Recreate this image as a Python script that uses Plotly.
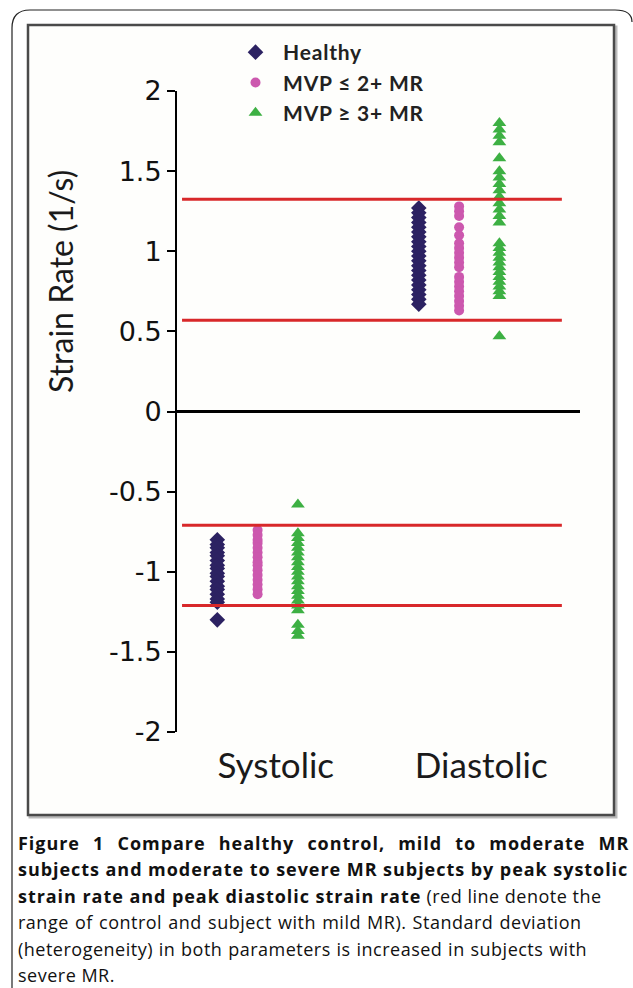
import plotly.graph_objects as go

# ---------------- data ----------------
categories = ["Systolic", "Diastolic"]
series_names = ["Healthy", "MVP \u2264 2+ MR", "MVP \u2265 3+ MR"]

healthy_sys = [-0.80, -0.83, -0.85, -0.88, -0.90, -0.93, -0.96, -0.98, -1.01, -1.03,
               -1.06, -1.09, -1.11, -1.14, -1.17, -1.19, -1.30]
mild_sys = [-0.74, -0.77, -0.80, -0.82, -0.85, -0.88, -0.91, -0.94, -0.96, -0.99,
            -1.02, -1.05, -1.08, -1.11, -1.14]
severe_sys = [-0.58, -0.76, -0.79, -0.82, -0.85, -0.88, -0.91, -0.94, -0.97, -1.00,
              -1.03, -1.06, -1.09, -1.12, -1.15, -1.18, -1.21, -1.24, -1.33, -1.37, -1.40]

healthy_dia = [1.27, 1.24, 1.21, 1.18, 1.15, 1.12, 1.09, 1.06, 1.03, 1.00, 0.97,
               0.94, 0.91, 0.88, 0.85, 0.82, 0.79, 0.76, 0.73, 0.70, 0.67]
mild_dia = [1.28, 1.25, 1.22, 1.15, 1.10, 1.05, 1.02, 0.99, 0.96, 0.93, 0.90,
            0.84, 0.81, 0.78, 0.75, 0.72, 0.69, 0.66, 0.63]
severe_dia = [1.80, 1.76, 1.72, 1.68, 1.58, 1.50, 1.46, 1.42, 1.38, 1.34, 1.30,
              1.26, 1.22, 1.18, 1.05, 1.02, 0.99, 0.96, 0.93, 0.90, 0.87, 0.84,
              0.81, 0.78, 0.75, 0.72, 0.47]

# range limits (red lines) for systolic and diastolic
sys_range_lines = [-0.71, -1.21]
dia_range_lines = [1.325, 0.57]

y_tick_vals = [2, 1.5, 1, 0.5, 0, -0.5, -1, -1.5, -2]
y_tick_text = ["2", "1.5", "1", "0.5", "0", "-0.5", "-1", "-1.5", "-2"]

# caption: each line is a list of (text, is_bold) segments
caption_lines = [
    [("Figure 1 Compare healthy control, mild to moderate MR", True)],
    [("subjects and moderate to severe MR subjects by peak systolic", True)],
    [("strain rate and peak diastolic strain rate", True), (" (red line denote the", False)],
    [("range of control and subject with mild MR). Standard deviation", False)],
    [("(heterogeneity) in both parameters is increased in subjects with", False)],
    [("severe MR.", False)],
]

# ---------------- styling ----------------
colors = ["#2C2262", "#CC58AE", "#3DB043"]
symbols = ["diamond", "circle", "triangle-up"]
sizes = [12, 10, 12]
cat_pos = [1, 2]
offsets = [-0.2, 0.0, 0.2]
label_pos = [1.09, 2.11]
caption_word_spacing = [7.6, 0.0, 0.0, 1.0, 0.6, 0.0]

W, H = 633, 988
L, R, T, B = 177, 53, 91, 256
pw, ph = W - L - R, H - T - B


def px_x(px):
    return (px - L) / pw


def px_y(py):
    return (H - B - py) / ph


def spaced(s, ls, ws=0.0):
    return f'<span style="letter-spacing:{ls}px;word-spacing:{ws}px">{s}</span>'


fig = go.Figure()

data_sets = [(healthy_sys, healthy_dia), (mild_sys, mild_dia), (severe_sys, severe_dia)]
for i, (sys_v, dia_v) in enumerate(data_sets):
    xs = [cat_pos[0] + offsets[i]] * len(sys_v) + [cat_pos[1] + offsets[i]] * len(dia_v)
    ys = list(sys_v) + list(dia_v)
    fig.add_trace(go.Scatter(
        x=xs, y=ys, mode="markers", name=spaced(series_names[i], 0.8),
        legendgroup=f"g{i}",
        marker=dict(symbol=symbols[i], size=sizes[i], color=colors[i], line=dict(width=0)),
    ))

shapes = []
for v in sys_range_lines + dia_range_lines:
    shapes.append(dict(type="line", xref="x", yref="y", x0=0.625, x1=2.51, y0=v, y1=v,
                       line=dict(color="#D8282A", width=3), layer="above"))

# chart frame (gray box with soft shadow)
shapes.append(dict(type="rect", xref="paper", yref="paper",
                   x0=px_x(30), x1=px_x(616), y0=px_y(817), y1=px_y(27),
                   line=dict(color="#BBBBBB", width=3), layer="below"))
shapes.append(dict(type="rect", xref="paper", yref="paper",
                   x0=px_x(28), x1=px_x(614), y0=px_y(815), y1=px_y(25),
                   line=dict(color="#4A4A4A", width=2.5), fillcolor="#FEFEFC", layer="below"))
# outer rounded page border
x12, x30, x615, x631 = px_x(12), px_x(30), px_x(615), px_x(632)
y988, y28, y10, y22 = px_y(990), px_y(28), px_y(10), px_y(22)
shapes.append(dict(type="path", xref="paper", yref="paper",
                   path=f"M {x12},{y988} L {x12},{y28} Q {x12},{y10} {x30},{y10} "
                        f"L {x615},{y10} Q {x631},{y10} {x631},{y22}",
                   line=dict(color="#222222", width=1.2)))

annotations = [dict(
    text="Strain Rate (1/s)", textangle=-90, xref="paper", yref="paper",
    x=px_x(60), y=px_y(281), xanchor="center", yanchor="middle", showarrow=False,
    font=dict(family="Lato", size=32, color="#1A1A1A"))]

for k, segs in enumerate(caption_lines):
    ws = caption_word_spacing[k]
    parts = []
    for txt, bold in segs:
        if bold:
            parts.append("<b>" + spaced(txt, 0.95, ws) + "</b>")
        else:
            parts.append(spaced(txt, 0.5, ws))
    annotations.append(dict(
        text="".join(parts), xref="paper", yref="paper", x=px_x(16),
        y=px_y(843 + 26.4 * k),
        xanchor="left", yanchor="middle", showarrow=False, align="left",
        font=dict(family="Open Sans", size=18, color="#111111")))

fig.update_layout(
    width=W, height=H,
    margin=dict(l=L, r=R, t=T, b=B, pad=0),
    paper_bgcolor="white", plot_bgcolor="rgba(0,0,0,0)",
    showlegend=True,
    legend=dict(x=px_x(228), y=px_y(32), xanchor="left", yanchor="top",
                bgcolor="rgba(0,0,0,0)", tracegroupgap=0, itemwidth=45,
                font=dict(family="Lato", size=21, color="#222222", weight="bold")),
    xaxis=dict(range=[0.6, 2.6], showgrid=False, zeroline=False, showline=False,
               tickvals=label_pos, ticktext=categories, ticks="",
               ticklabelstandoff=10,
               tickfont=dict(family="Lato", size=35, color="#1A1A1A")),
    yaxis=dict(range=[-2, 2], showgrid=False, zeroline=True, zerolinecolor="#000000",
               zerolinewidth=2.5, showline=True, linecolor="#000000", linewidth=2,
               ticks="outside", ticklen=8, tickwidth=2, tickcolor="#000000",
               tickvals=y_tick_vals, ticktext=y_tick_text,
               tickfont=dict(family="DejaVu Sans", size=27, color="#111111")),
    shapes=shapes, annotations=annotations,
)

fig.write_html("out.html", config={"displayModeBar": False},
               post_script="document.body.style.margin='0px';")
